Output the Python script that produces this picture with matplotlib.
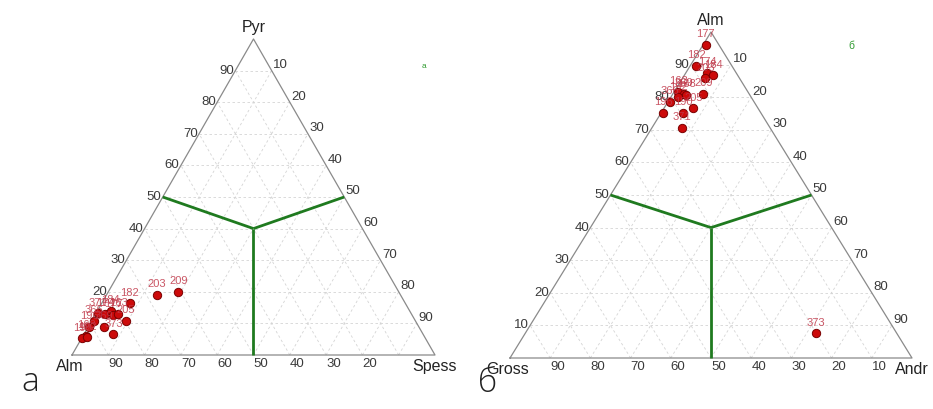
import numpy as np
import matplotlib
matplotlib.use("Agg")
import matplotlib.pyplot as plt

plt.rcParams['font.family'] = ['Liberation Sans', 'DejaVu Sans']

# Panel a: Pyr (top) - Alm (left) - Spess (right), values in %
a_labels = ["209", "203", "182", "371", "174", "184", "177", "163", "205",
            "369", "373", "366", "196", "168", "190", "192"]
a_pyr = [20.0, 19.0, 16.3, 13.2, 13.0, 14.0, 12.7, 13.0, 10.8,
         9.0, 6.6, 10.9, 9.0, 6.0, 5.3, 5.6]
a_spess = [19.3, 13.8, 7.7, 0.6, 2.6, 3.7, 5.0, 6.3, 9.4,
           4.4, 8.1, 0.5, 0.3, 0.9, 0.2, 1.4]

# Panel b: Alm (top) - Gross (left) - Andr (right), values in %
b_labels = ["177", "182", "174", "184", "203", "209", "205", "163", "366",
            "369", "168", "196", "190", "371", "373", "192"]
b_alm = [96.1, 89.7, 87.5, 86.8, 85.8, 81.1, 76.6, 81.7, 78.6,
         81.1, 80.7, 75.3, 75.3, 70.7, 7.6, 80.0]
b_andr = [0.6, 1.45, 5.35, 7.2, 5.7, 7.55, 7.3, 1.05, 0.4,
          2.65, 3.55, 0.5, 5.35, 7.35, 72.3, 1.8]

ticks = [10, 20, 30, 40, 50, 60, 70, 80, 90]
H = np.sqrt(3) / 2
W_PX, H_PX = 933, 409


def xy(top, right):
    top = np.asarray(top, float)
    right = np.asarray(right, float)
    return right + top / 2, top * H


def make_ax(fig, x0, y0, sx, sy, xlim, ylim):
    # x0, y0: pixel position of the bottom-left vertex (y from top)
    left = (x0 + xlim[0] * sx) / W_PX
    bottom = (H_PX - y0 + ylim[0] * sy) / H_PX
    w = (xlim[1] - xlim[0]) * sx / W_PX
    h = (ylim[1] - ylim[0]) * sy / H_PX
    ax = fig.add_axes([left, bottom, w, h])
    ax.set_xlim(*xlim)
    ax.set_ylim(*ylim)
    ax.axis("off")
    return ax


def ternary(ax, names, top, right, labels, left_ticks, bottom_ticks):
    # grid
    gl = dict(ls=(0, (3, 3)), color="#d4d4d4", lw=0.6, zorder=1)
    for t in ticks:
        xa, ya = xy([t, t], [0, 100 - t])
        ax.plot(xa, ya, **gl)
        xa, ya = xy([0, 100 - t], [t, t])
        ax.plot(xa, ya, **gl)
        xa, ya = xy([0, t], [t, 0])
        ax.plot(xa, ya, **gl)
    # outline
    xa, ya = xy([0, 0, 100, 0], [0, 100, 0, 0])
    ax.plot(xa, ya, color="#8a8a8a", lw=0.9, zorder=2)
    # field boundaries
    cx, cy = xy(40, 30)
    for t, r in [(50, 0), (50, 50), (0, 50)]:
        ex, ey = xy(t, r)
        ax.plot([cx, ex], [cy, ey], color="#1f7a1f", lw=2.0, zorder=3,
                solid_capstyle="butt")
    # tick labels
    tk = dict(textcoords="offset points", fontsize=9.5, color="#3a3a3a")
    for t in left_ticks:
        px, py = xy(t, 0)
        ax.annotate(str(t), (px, py), xytext=(-1, 0), ha="right", va="center", **tk)
    for t in ticks:
        px, py = xy(100 - t, t)
        ax.annotate(str(t), (px, py), xytext=(1, 4), ha="left", va="center", **tk)
    for t in bottom_ticks:
        px, py = xy(0, 100 - t)
        ax.annotate(str(t), (px, py), xytext=(0, -2), ha="left", va="top", **tk)
    # vertex names
    vn = dict(textcoords="offset points", fontsize=11.5, color="#222222")
    px, py = xy(100, 0)
    ax.annotate(names[0], (px, py), xytext=(0, 3), ha="center", va="bottom", **vn)
    ax.annotate(names[1], (0, 0), xytext=(-2, -3), ha="center", va="top", **vn)
    ax.annotate(names[2], (100, 0), xytext=(0, -3), ha="center", va="top", **vn)
    # data
    x, y = xy(top, right)
    ax.plot(x, y, "o", ms=6, mfc="#cc0a0a", mec="#7a0000", mew=0.7, zorder=5)
    for xi, yi, lab in zip(x, y, labels):
        ax.annotate(lab, (xi, yi), xytext=(0, 4), textcoords="offset points",
                    ha="center", va="bottom", fontsize=8, color="#c0394a",
                    alpha=0.85, zorder=6)


fig = plt.figure(figsize=(9.33, 4.09), dpi=100)
fig.patch.set_facecolor("white")

ax1 = make_ax(fig, 72, 355, 3.63, 3.649, (-19, 112), (-14, 96))
ternary(ax1, ["Pyr", "Alm", "Spess"], a_pyr, a_spess, a_labels,
        ticks[1:], ticks[1:])
ax1.text(97, 79, "a", fontsize=6, color="#2e9a2e", ha="center", va="center")

ax2 = make_ax(fig, 510, 358, 4.02, 3.764, (-9, 105), (-13, 96))
ternary(ax2, ["Alm", "Gross", "Andr"], b_alm, b_andr, b_labels,
        ticks, ticks)
ax2.text(85, 83, "б", fontsize=7.5, color="#2e9a2e", ha="center", va="center")

fig.text(30 / W_PX, 1 - 382 / H_PX, "а", fontsize=24, ha="center", va="center",
         family=["Open Sans", "DejaVu Sans"], fontweight="light", color="#222222")
fig.text(488 / W_PX, 1 - 383 / H_PX, "б", fontsize=24, ha="center", va="center",
         family=["Open Sans", "DejaVu Sans"], fontweight="light", color="#222222")

plt.savefig("out.png", dpi=100)
plt.close()
